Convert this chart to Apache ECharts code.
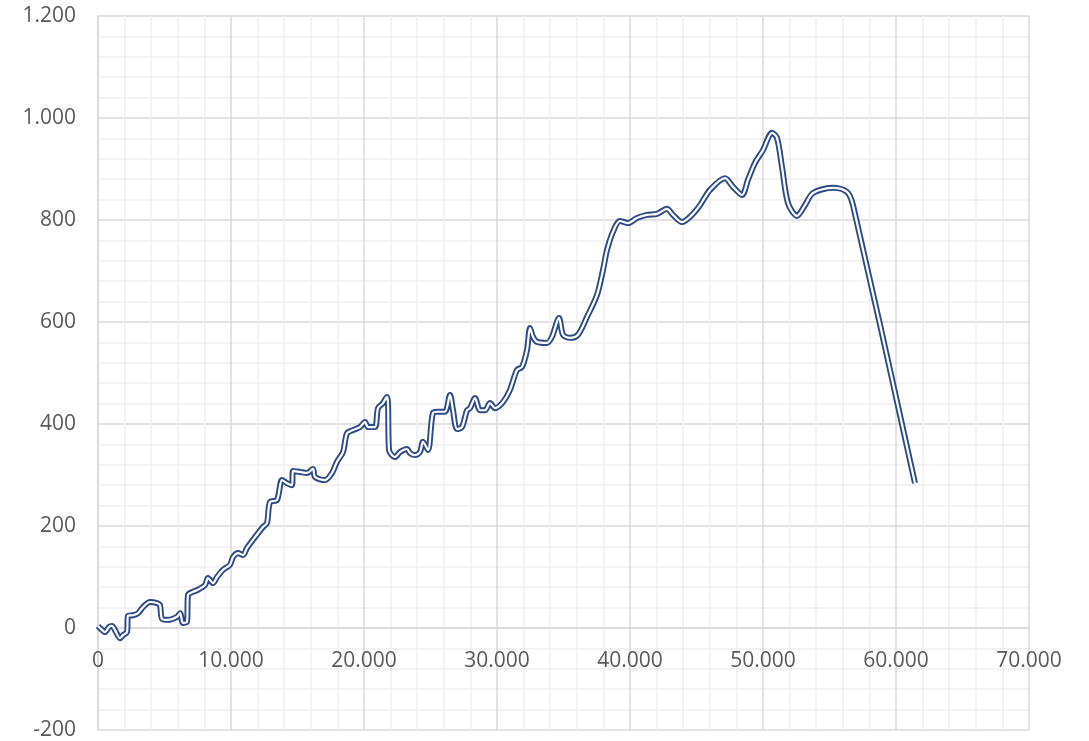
<!doctype html>
<html>
<head>
<meta charset="UTF-8">
<title>Chart</title>
<style>
  html, body { margin: 0; padding: 0; background: #ffffff; }
  #chart { width: 1089px; height: 741px; }
</style>
</head>
<body>
<div id="chart"></div>
<script src="https://cdn.jsdelivr.net/npm/echarts@6/dist/echarts.min.js"></script>
<script type="text/javascript">
// values
var xValues = [0, 150, 526, 827, 1053, 1278, 1654, 1880, 2180, 2256, 2632, 3008, 3384, 3910, 4436, 4662, 4812,
  5263, 5940, 6166, 6391, 6692, 6767, 7143, 7519, 8045, 8271, 8647, 8948, 9399, 9925, 10151, 10527, 10903,
  11203, 11654, 12406, 12707, 12933, 13459, 13835, 14211, 14587, 14662, 15188, 15714, 16166, 16316, 17068,
  17594, 17970, 18422, 18722, 19173, 19700, 20076, 20301, 20827, 21053, 21429, 21729, 21805, 21880, 22331,
  22707, 23234, 23459, 23835, 24211, 24437, 24813, 25189, 25565, 26091, 26467, 26692, 26993, 27369, 27745,
  27971, 28347, 28723, 29099, 29474, 29850, 30452, 30978, 31504, 31880, 32256, 32482, 32707, 33008, 33760,
  34136, 34662, 34963, 35489, 36091, 36768, 37519, 37970, 38271, 38722, 39248, 39850, 40527, 41278, 42030,
  42782, 43233, 43910, 44662, 45263, 46015, 47143, 47745, 48421, 48872, 49399, 50000, 50677, 51053, 51429,
  51880, 52557, 53158, 53760, 55263, 56316, 56767, 61429];
var yValues = [4, 0, -8, 2, 4, -4, -20, -14, -8, 24, 25, 29, 41, 51, 49, 45, 18,
  16, 22, 29, 10, 12, 65, 71, 75, 84, 98, 88, 100, 114, 124, 139, 147, 143,
  157, 173, 198, 206, 247, 251, 290, 284, 280, 308, 306, 304, 312, 296, 290,
  304, 326, 345, 382, 388, 394, 404, 394, 394, 431, 441, 453, 441, 349, 335,
  345, 351, 343, 339, 345, 365, 349, 422, 424, 424, 457, 427, 390, 394, 427,
  431, 451, 427, 427, 441, 431, 443, 467, 506, 512, 545, 588, 571, 561, 559,
  571, 608, 575, 569, 575, 610, 653, 702, 741, 777, 798, 794, 804, 810, 812,
  822, 810, 796, 810, 829, 859, 882, 865, 849, 879, 912, 937, 971, 961, 904,
  833, 808, 829, 853, 863, 855, 829, 284];
var xTicks = [0, 10000, 20000, 30000, 40000, 50000, 60000, 70000];
var yTicks = [-200, 0, 200, 400, 600, 800, 1000, 1200];

var points = [];
for (var i = 0; i < xValues.length; i++) {
  points.push([xValues[i], yValues[i]]);
}

function fmt(v) {
  return String(v).replace(/\B(?=(\d{3})+(?!\d))/g, '.');
}

var labelStyle = {
  color: '#595959',
  fontSize: 21,
  fontFamily: 'Open Sans'
};

// grid is fixed in pixels, so the x axis sits at y = 0 by shifting it up
// from the bottom edge: 714px plot height * 200/1400 = 102px
var option = {
  animation: false,
  backgroundColor: '#ffffff',
  grid: {
    left: 98,
    right: 60,
    top: 16,
    bottom: 11,
    outerBoundsMode: 'none',
    containLabel: false
  },
  xAxis: {
    type: 'value',
    min: xTicks[0],
    max: xTicks[xTicks.length - 1],
    interval: 10000,
    offset: -102,
    axisLine: { show: true, onZero: false, lineStyle: { color: '#d9d9d9', width: 1.5 } },
    axisTick: { show: false },
    axisLabel: {
      color: labelStyle.color,
      fontSize: labelStyle.fontSize,
      fontFamily: labelStyle.fontFamily,
      margin: 23,
      formatter: fmt
    },
    splitLine: { show: true, lineStyle: { color: '#d9d9d9', width: 1.5 } },
    minorTick: { show: false, splitNumber: 5 },
    minorSplitLine: { show: true, lineStyle: { color: '#efefef', width: 1.5 } }
  },
  yAxis: {
    type: 'value',
    min: yTicks[0],
    max: yTicks[yTicks.length - 1],
    interval: 200,
    axisLine: { show: true, onZero: false, lineStyle: { color: '#d9d9d9', width: 1.5 } },
    axisTick: { show: false },
    axisLabel: {
      color: labelStyle.color,
      fontSize: labelStyle.fontSize,
      fontFamily: labelStyle.fontFamily,
      margin: 22,
      formatter: fmt
    },
    splitLine: { show: true, lineStyle: { color: '#d9d9d9', width: 1.5 } },
    minorTick: { show: false, splitNumber: 5 },
    minorSplitLine: { show: true, lineStyle: { color: '#efefef', width: 1.5 } }
  },
  series: [{
    type: 'line',
    data: points,
    smooth: 0.3,
    showSymbol: false,
    lineStyle: { color: '#2e4a87', width: 6 }
  }, {
    type: 'line',
    data: points,
    smooth: 0.3,
    showSymbol: false,
    lineStyle: { color: '#ffffff', width: 2.2 }
  }]
};

var Chart = echarts.init(document.getElementById('chart'));
Chart.setOption(option);
</script>
</body>
</html>
